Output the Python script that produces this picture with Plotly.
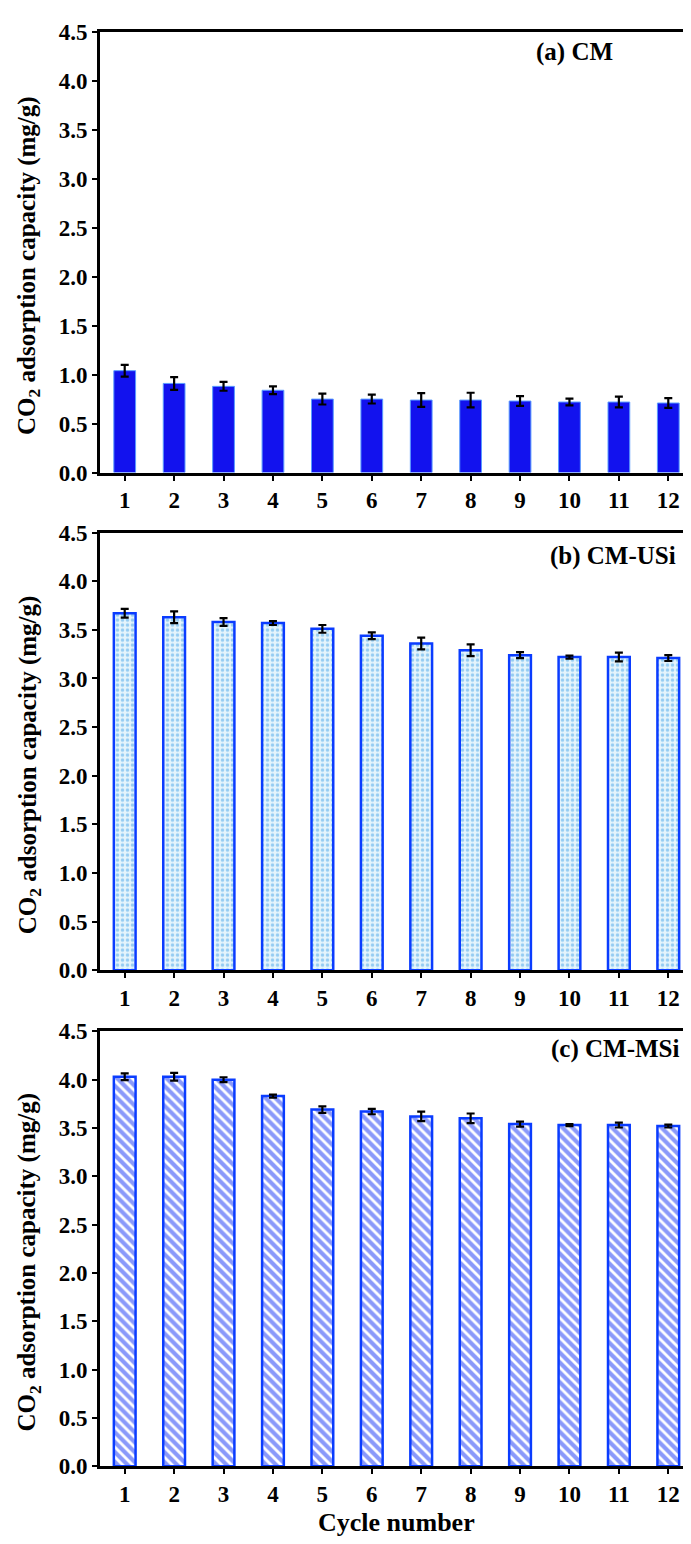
import plotly.graph_objects as go

W, H = 691, 1544

cycles = list(range(1, 13))

# (a) CM
cm_vals = [1.04, 0.91, 0.88, 0.84, 0.75, 0.75, 0.74, 0.74, 0.73, 0.72, 0.72, 0.71]
cm_err = [0.06, 0.065, 0.045, 0.04, 0.055, 0.045, 0.07, 0.075, 0.05, 0.035, 0.055, 0.05]

# (b) CM-USi
usi_vals = [3.67, 3.63, 3.58, 3.57, 3.51, 3.44, 3.36, 3.29, 3.24, 3.22, 3.22, 3.21]
usi_err = [0.045, 0.06, 0.04, 0.02, 0.04, 0.035, 0.06, 0.06, 0.03, 0.015, 0.045, 0.03]

# (c) CM-MSi
msi_vals = [4.03, 4.03, 4.00, 3.83, 3.69, 3.67, 3.62, 3.60, 3.54, 3.53, 3.53, 3.52]
msi_err = [0.035, 0.04, 0.025, 0.015, 0.033, 0.028, 0.05, 0.05, 0.025, 0.01, 0.025, 0.015]

panel_labels = ["(a) CM", "(b) CM-USi", "(c) CM-MSi"]
y_ticks = [0, 0.5, 1.0, 1.5, 2.0, 2.5, 3.0, 3.5, 4.0, 4.5]

FONT = "Liberation Serif"

# pixel boxes of the three plot areas (top, bottom)
x_left, x_right = 92, 685
boxes = [(12, 460), (521, 966), (1028, 1470)]

fig = go.Figure()

err_style = dict(type="data", color="black", thickness=2.2, width=4)

fig.add_trace(go.Bar(
    x=cycles, y=cm_vals, width=0.44,
    error_y=dict(array=cm_err, **err_style),
    marker=dict(color="#1212ee", line=dict(color="#5a9cff", width=1)),
    xaxis="x", yaxis="y",
))
fig.add_trace(go.Bar(
    x=cycles, y=usi_vals, width=0.44,
    error_y=dict(array=usi_err, **err_style),
    marker=dict(
        color="#e4f4fc",
        line=dict(color="#0a3cff", width=2.5),
        pattern=dict(shape=".", fgcolor="#45a4e8", bgcolor="#e4f4fc", size=5, solidity=0.38),
    ),
    xaxis="x2", yaxis="y2",
))
fig.add_trace(go.Bar(
    x=cycles, y=msi_vals, width=0.44,
    error_y=dict(array=msi_err, **err_style),
    marker=dict(
        color="white",
        line=dict(color="#0a3cff", width=2.5),
        pattern=dict(shape="\\", fgcolor="#1534f5", bgcolor="white", size=7, solidity=0.6),
    ),
    xaxis="x3", yaxis="y3",
))

axis_common = dict(
    showline=True, linecolor="black", linewidth=3, mirror=True,
    ticks="outside", tickcolor="black", tickwidth=2, ticklen=5,
    showgrid=False, zeroline=False,
    tickfont=dict(family=FONT, size=23, color="black", weight="bold"),
)

layout = dict(
    width=W, height=H,
    margin=dict(l=0, r=0, t=0, b=0),
    paper_bgcolor="white", plot_bgcolor="white",
    showlegend=False,
    font=dict(family=FONT, color="black", weight="bold"),
)

annotations = []
for i, (top, bot) in enumerate(boxes):
    sfx = "" if i == 0 else str(i + 1)
    yd = [1 - bot / H, 1 - top / H]
    layout["xaxis" + sfx] = dict(
        domain=[x_left / W, x_right / W], range=[0.5, 12.5],
        tickvals=cycles, anchor="y" + sfx, **axis_common,
    )
    layout["yaxis" + sfx] = dict(
        domain=yd, range=[0, 4.5], tickvals=y_ticks, tickformat=".1f",
        anchor="x" + sfx, **axis_common,
    )
    annotations.append(dict(
        text="CO<sub>2</sub> adsorption capacity (mg/g)",
        textangle=-90, x=21 / W, y=1 - ((top + bot) / 2 + 14) / H,
        xanchor="center", yanchor="middle",
        xref="paper", yref="paper", showarrow=False,
        font=dict(family=FONT, size=25, color="black", weight="bold"),
    ))

label_pos = [(607, 33), (670, 545), (673, 1046)]
for lbl, (px_, py_) in zip(panel_labels, label_pos):
    annotations.append(dict(
        text=lbl, x=px_ / W, y=1 - py_ / H, xref="paper", yref="paper",
        xanchor="right", yanchor="middle", showarrow=False,
        font=dict(family=FONT, size=25, color="black", weight="bold"),
    ))

annotations.append(dict(
    text="Cycle number", x=(x_left + x_right) / 2 / W, y=1 - 1527 / H,
    xref="paper", yref="paper", showarrow=False,
    xanchor="center", yanchor="middle",
    font=dict(family=FONT, size=26, color="black", weight="bold"),
))

layout["annotations"] = annotations
fig.update_layout(**layout)

fig.write_html("out.html")
